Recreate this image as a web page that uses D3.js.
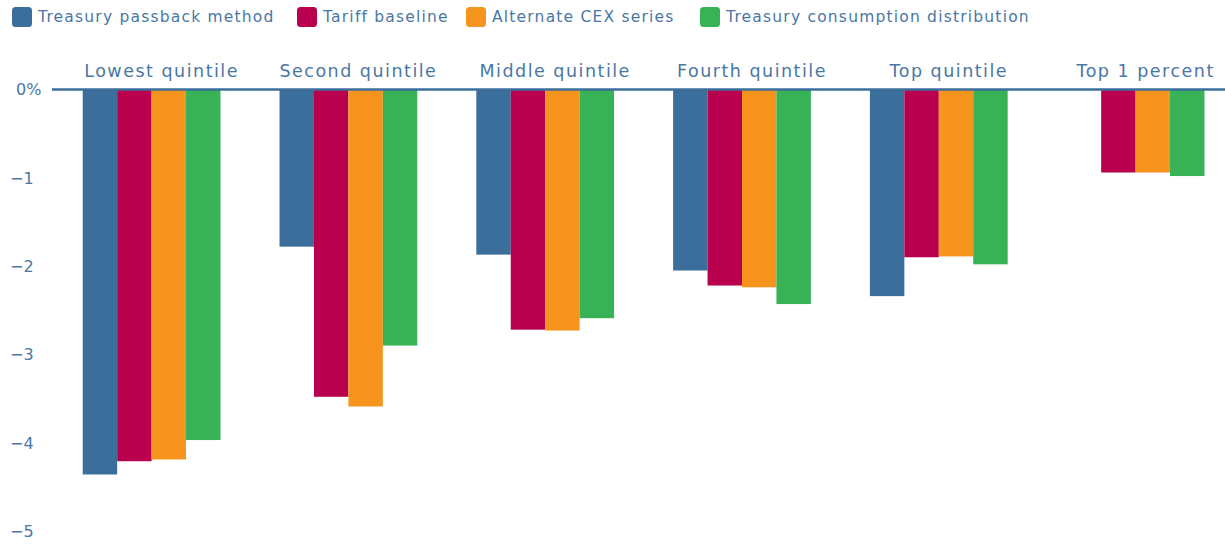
<!DOCTYPE html>
<html>
<head>
<meta charset="utf-8">
<script src="https://cdn.jsdelivr.net/npm/d3@7"></script>
<style>
  html, body { margin: 0; padding: 0; background: #fff; }
  svg { display: block; }
  text { font-family: "DejaVu Sans", sans-serif; fill: #4a77a5; }
</style>
</head>
<body>
<svg id="chart" width="1225" height="544"></svg>
<script>
const categories = ["Lowest quintile", "Second quintile", "Middle quintile", "Fourth quintile", "Top quintile", "Top 1 percent"];
const seriesNames = ["Treasury passback method", "Tariff baseline", "Alternate CEX series", "Treasury consumption distribution"];
const seriesColors = ["#3b6e9b", "#b8004f", "#f7941d", "#37b257"];
const passback = [-4.36, -1.78, -1.87, -2.05, -2.34, null];
const tariffBaseline = [-4.21, -3.48, -2.72, -2.22, -1.90, -0.94];
const alternateCEX = [-4.19, -3.59, -2.73, -2.24, -1.89, -0.94];
const consumptionDist = [-3.97, -2.90, -2.59, -2.43, -1.98, -0.98];
const yTicks = [0, -1, -2, -3, -4, -5];

const seriesValues = [passback, tariffBaseline, alternateCEX, consumptionDist];

const svg = d3.select("#chart");
const W = 1225;

const y = d3.scaleLinear().domain([-5, 0]).range([531, 89.5]);
const x0 = d3.scaleBand().domain(categories).range([53.2, 1234]).paddingInner(0.3).paddingOuter(0.15);
const x1 = d3.scaleBand().domain(seriesNames).range([0, x0.bandwidth()]);
const color = d3.scaleOrdinal().domain(seriesNames).range(seriesColors);

// Y axis labels
const yAxis = d3.axisLeft(y).tickValues(yTicks).tickSize(0)
  .tickFormat(d => d === 0 ? "0%" : "\u2212" + Math.abs(d));
const gy = svg.append("g").call(yAxis);
gy.select(".domain").remove();
gy.selectAll("text")
  .attr("text-anchor", "start")
  .attr("x", d => d === 0 ? 16 : 10)
  .attr("dy", "0.34em")
  .style("font-size", "16px")
  .style("font-family", "'DejaVu Sans', sans-serif")
  .attr("fill", "#4a77a5");

// Bars
const rows = categories.map((c, i) => ({ cat: c, vals: seriesNames.map((s, j) => ({ s, v: seriesValues[j][i] })) }));
const groups = svg.append("g").selectAll("g").data(rows).join("g")
  .attr("transform", d => `translate(${x0(d.cat)},0)`);
groups.selectAll("rect").data(d => d.vals.filter(e => e.v !== null)).join("rect")
  .attr("x", d => x1(d.s))
  .attr("width", x1.bandwidth())
  .attr("y", y(0))
  .attr("height", d => y(d.v) - y(0))
  .attr("fill", d => color(d.s));

// Zero line
svg.append("line")
  .attr("x1", 52).attr("x2", W)
  .attr("y1", y(0)).attr("y2", y(0))
  .attr("stroke", "#3b6e9b").attr("stroke-width", 2.5);

// Category labels
svg.append("g").selectAll("text").data(categories).join("text")
  .attr("x", d => x0(d) + x0.bandwidth() / 2 + 10)
  .attr("y", 77)
  .attr("text-anchor", "middle")
  .style("font-size", "17.5px")
  .style("letter-spacing", "1.5px")
  .text(d => d);

// Legend
const legendX = [12, 297, 466, 700];
const lg = svg.append("g").selectAll("g").data(seriesNames).join("g")
  .attr("transform", (d, i) => `translate(${legendX[i]},7)`);
lg.append("rect").attr("width", 20).attr("height", 20).attr("rx", 3.5)
  .attr("fill", d => color(d));
lg.append("text").attr("x", 26).attr("y", 10).attr("dy", "0.35em")
  .style("font-size", "15.5px")
  .style("letter-spacing", "1.2px")
  .text(d => d);
</script>
</body>
</html>
